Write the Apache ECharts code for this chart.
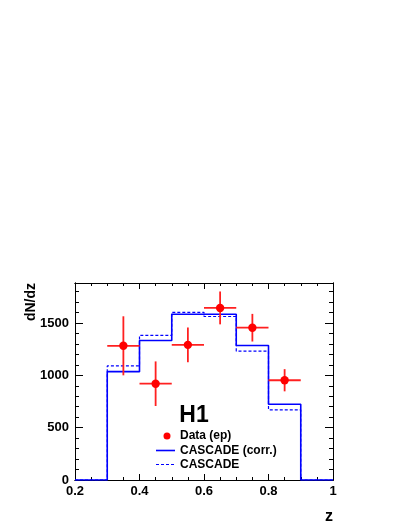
<!DOCTYPE html>
<html>
<head>
<meta charset="utf-8">
<script src="https://cdn.jsdelivr.net/npm/echarts@6/dist/echarts.min.js"></script>
<style>
html,body{margin:0;padding:0;background:#fff;}
#main{width:409px;height:529px;}
</style>
</head>
<body>
<div id="main"></div>
<script>
// Data points (ep)
var dataX = [0.35, 0.45, 0.55, 0.65, 0.75, 0.85];
var dataY = [1282, 920, 1291, 1644, 1455, 953];
var dataYErr = [282, 213, 166, 157, 132, 106];
var dataXHalf = 0.05;
// Histogram bin low edges and contents
var binEdges = [0.2, 0.3, 0.4, 0.5, 0.6, 0.7, 0.8, 0.9, 1.0];
var cascadeCorr = [0, 1035, 1333, 1583, 1583, 1285, 724, 0];
var cascade = [0, 1090, 1382, 1602, 1562, 1231, 670, 0];
// Axis ticks
var xTickLabels = [0.2, 0.4, 0.6, 0.8, 1];
var yTickLabels = [0, 500, 1000, 1500];

function histPoints(vals) {
  var pts = [];
  for (var i = 0; i < vals.length; i++) pts.push([binEdges[i], vals[i]]);
  pts.push([binEdges[binEdges.length - 1], vals[vals.length - 1]]);
  return pts;
}

var chart = echarts.init(document.getElementById('main'), null, {renderer: 'canvas'});
var FONT = 'Liberation Sans, Arial, Helvetica, sans-serif';
var xMin = 0.2, xMax = 1.0, yMin = 0, yMax = 1882;

function fmtX(v) {
  var r = Math.round(v * 100) / 100;
  for (var i = 0; i < xTickLabels.length; i++) if (Math.abs(xTickLabels[i] - r) < 1e-6) return String(xTickLabels[i]);
  return '';
}
function fmtY(v) {
  for (var i = 0; i < yTickLabels.length; i++) if (Math.abs(yTickLabels[i] - v) < 1e-6) return String(yTickLabels[i]);
  return '';
}

function xAxisDef(pos, interval, len, show) {
  return {
    type: 'value', position: pos, min: xMin, max: xMax, interval: interval,
    axisLine: {show: true, onZero: false, lineStyle: {color: '#000', width: 1}},
    axisTick: {show: true, inside: true, length: len, lineStyle: {color: '#000', width: 1}},
    axisLabel: {show: show, formatter: fmtX, color: '#000', fontFamily: FONT, fontWeight: 'bold', fontSize: 13, margin: 5, showMaxLabel: true, showMinLabel: true},
    splitLine: {show: false}
  };
}
function yAxisDef(pos, interval, len, show) {
  return {
    type: 'value', position: pos, min: yMin, max: yMax, interval: interval,
    axisLine: {show: true, onZero: false, lineStyle: {color: '#000', width: 1}},
    axisTick: {show: true, inside: true, length: len, lineStyle: {color: '#000', width: 1}},
    axisLabel: {show: show, formatter: fmtY, color: '#000', fontFamily: FONT, fontWeight: 'bold', fontSize: 13, margin: 6, showMaxLabel: false},
    splitLine: {show: false}
  };
}

var errData = dataX.map(function (x, i) { return [x, dataY[i], dataYErr[i]]; });

var option = {
  backgroundColor: '#fff',
  animation: false,
  grid: {left: 75, right: 76, top: 283, bottom: 49, containLabel: false},
  xAxis: [
    xAxisDef('bottom', 0.2, 6, true),
    xAxisDef('bottom', 0.05, 3, false),
    xAxisDef('top', 0.2, 6, false),
    xAxisDef('top', 0.05, 3, false)
  ],
  yAxis: [
    yAxisDef('left', 500, 8, true),
    yAxisDef('left', 100, 4, false),
    yAxisDef('right', 500, 8, false),
    yAxisDef('right', 100, 4, false)
  ],
  series: [
    {
      type: 'line', name: 'CASCADE', step: 'end', showSymbol: false, symbol: 'none',
      data: histPoints(cascade), xAxisIndex: 0, yAxisIndex: 0,
      lineStyle: {color: '#0000ff', width: 1.2, type: [3, 2]}, z: 2
    },
    {
      type: 'line', name: 'CASCADE (corr.)', step: 'end', showSymbol: false, symbol: 'none',
      data: histPoints(cascadeCorr), xAxisIndex: 0, yAxisIndex: 0,
      lineStyle: {color: '#0000ff', width: 1.6}, z: 3
    },
    {
      type: 'custom', name: 'Data (ep)', xAxisIndex: 0, yAxisIndex: 0, z: 5,
      data: errData,
      renderItem: function (params, api) {
        var x = api.value(0), y = api.value(1), e = api.value(2);
        var c = api.coord([x, y]);
        var l = api.coord([x - dataXHalf, y]);
        var r = api.coord([x + dataXHalf, y]);
        var t = api.coord([x, y + e]);
        var b = api.coord([x, y - e]);
        var st = {stroke: '#ff2020', lineWidth: 1.8};
        return {
          type: 'group',
          children: [
            {type: 'line', shape: {x1: l[0], y1: l[1], x2: r[0], y2: r[1]}, style: st},
            {type: 'line', shape: {x1: t[0], y1: t[1], x2: b[0], y2: b[1]}, style: st},
            {type: 'circle', shape: {cx: c[0], cy: c[1], r: 4.2}, style: {fill: '#ff0000'}}
          ]
        };
      }
    }
  ],
  graphic: [
    {type: 'text', x: 31, y: 283, rotation: Math.PI / 2,
      style: {text: 'dN/dz', font: 'bold 14px ' + FONT, fill: '#000', textAlign: 'right', textVerticalAlign: 'middle'}},
    {type: 'text', x: 329, y: 517,
      style: {text: 'z', font: 'bold 16px ' + FONT, fill: '#000', textAlign: 'center', textVerticalAlign: 'middle'}},
    {type: 'text', x: 194, y: 416, z: 10,
      style: {text: 'H1', font: 'bold 23px ' + FONT, fill: '#000', textAlign: 'center', textVerticalAlign: 'middle'}},
    {type: 'circle', shape: {cx: 167, cy: 436, r: 3.5}, style: {fill: '#ff0000'}, z: 10},
    {type: 'line', shape: {x1: 156, y1: 450.5, x2: 175, y2: 450.5}, style: {stroke: '#0000ff', lineWidth: 1.6}, z: 10},
    {type: 'line', shape: {x1: 156, y1: 464.5, x2: 175, y2: 464.5}, style: {stroke: '#0000ff', lineWidth: 1.2, lineDash: [3, 2]}, z: 10},
    {type: 'text', x: 180, y: 436, z: 10,
      style: {text: 'Data (ep)', font: 'bold 12px ' + FONT, fill: '#000', textAlign: 'left', textVerticalAlign: 'middle'}},
    {type: 'text', x: 180, y: 450.5, z: 10,
      style: {text: 'CASCADE (corr.)', font: 'bold 12px ' + FONT, fill: '#000', textAlign: 'left', textVerticalAlign: 'middle'}},
    {type: 'text', x: 180, y: 464.5, z: 10,
      style: {text: 'CASCADE', font: 'bold 12px ' + FONT, fill: '#000', textAlign: 'left', textVerticalAlign: 'middle'}}
  ]
};
chart.setOption(option);
</script>
</body>
</html>
